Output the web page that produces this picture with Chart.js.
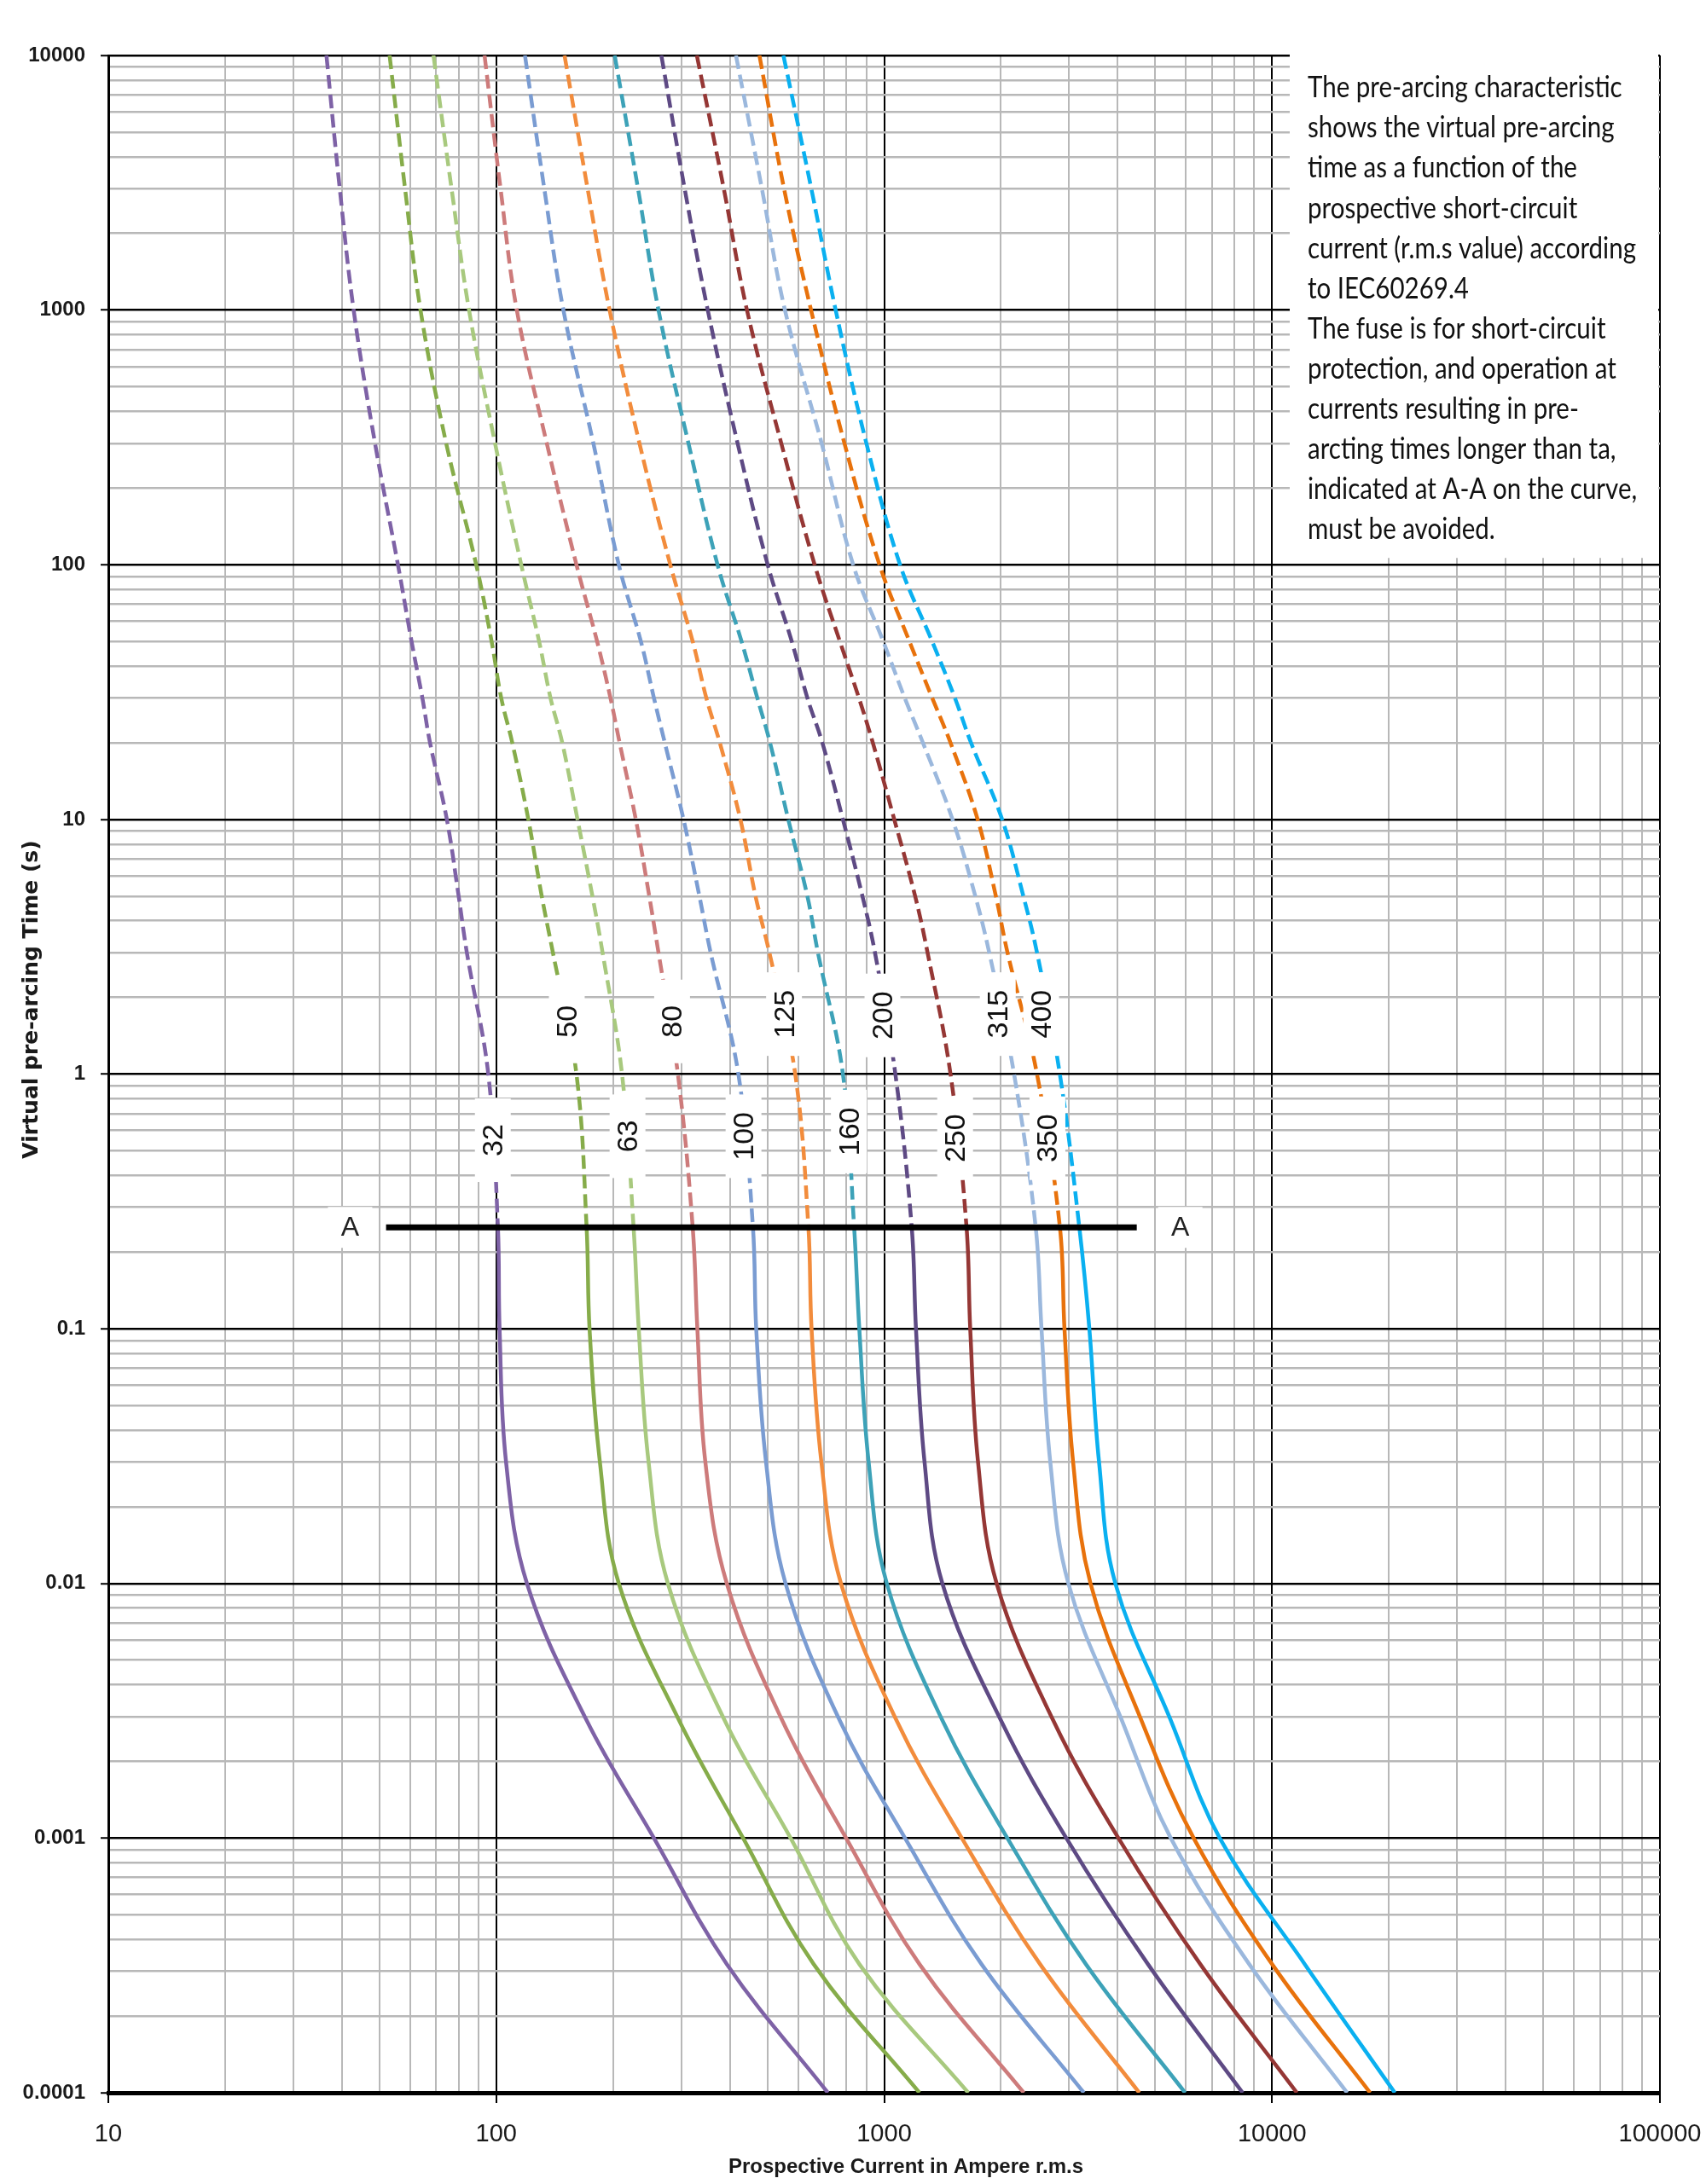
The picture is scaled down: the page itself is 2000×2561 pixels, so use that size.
<!DOCTYPE html>
<html><head><meta charset="utf-8">
<script src="https://cdn.jsdelivr.net/npm/chart.js@4.4.1/dist/chart.umd.min.js"></script>
<style>html,body{margin:0;padding:0;background:#fff;}#wrap{width:2000px;height:2561px;}</style>
</head><body><div id="wrap"><canvas id="c" width="2000" height="2561"></canvas></div>
<script>
// ---------- data ----------
const fuseRatings = ['32','50','63','80','100','125','160','200','250','315','350','400'];
const fuseColors  = ['#7E62A6','#86AC4A','#A8C97E','#CD7B7B','#7A9CD2','#F28C3C','#3DA2B8','#5E4A84','#953735','#9BB8DD','#E8720C','#0AB0F0'];
// virtual pre-arcing time (s) at which each current was read
const timeValues = [10000, 3000, 1000, 300, 100, 50, 30, 20, 10, 5, 3, 1, 0.25, 0.1, 0.03, 0.01, 0.0029, 0.001, 0.00032, 0.0001];
// prospective current (A) of each fuse at those times
const current32  = [36.5, 39.5, 42.9, 48.7, 55.8, 60.5, 64.5, 67.5, 74.6, 80, 84, 95.4, 101, 102, 106, 120, 171, 255, 393, 716];
const current50  = [53.1, 58.2, 63.8, 74.3, 88.8, 97.3, 103, 110, 121, 131, 140, 161, 171, 174, 185, 207, 296, 433, 658, 1233];
const current63  = [68.9, 76.7, 85.1, 99.3, 116, 129, 138, 148, 162, 177, 188, 211, 226, 233, 247, 277, 388, 574, 863, 1648];
const current80  = [93.3, 102.6, 113, 135, 161, 182, 197, 208, 229, 248, 262, 294, 321, 330, 346, 393, 546, 798, 1233, 2291];
const current100 = [118.6, 133, 149, 178, 207, 236, 255, 272, 304, 334, 357, 421, 459, 468, 496, 557, 768, 1132, 1782, 3273];
const current125 = [150, 172, 196, 234, 281, 321, 348, 377, 426, 466, 506, 590, 638, 650, 689, 774, 1076, 1586, 2523, 4548];
const current160 = [202, 232, 262, 313, 372, 429, 471, 508, 566, 634, 675, 783, 837, 863, 912, 1016, 1413, 2078, 3311, 5970];
const current200 = [266.5, 306, 351, 419, 501, 578, 634, 693, 783, 879, 947, 1069, 1178, 1208, 1271, 1413, 2000, 2949, 4786, 8400];
const current250 = [329, 386, 443, 543, 662, 769, 861, 935, 1062, 1202, 1294, 1483, 1631, 1667, 1746, 1950, 2728, 4018, 6530, 11590];
const current315 = [415, 484, 555, 690, 832, 995, 1130, 1259, 1501, 1718, 1866, 2163, 2459, 2545, 2681, 2985, 4101, 5483, 8730, 15620];
const current350 = [477, 552, 648, 790, 973, 1162, 1330, 1483, 1742, 1941, 2080, 2478, 2839, 2917, 3070, 3404, 4605, 6280, 10000, 17900];
const current400 = [550, 649, 750, 900, 1099, 1330, 1522, 1675, 2015, 2285, 2478, 2838, 3186, 3381, 3581, 3945, 5483, 7330, 12140, 20730];

// rating labels on the curves
const labelCurrents = [98, 152, 218, 284, 434, 552, 811, 990, 1524, 1963, 2636, 2540];
const labelTimes    = [0.55, 1.61, 0.57, 1.61, 0.57, 1.72, 0.595, 1.70, 0.56, 1.72, 0.56, 1.72];

// A-A line
const aaTime = 0.25;
const aaCurrents = [52, 4480];
const aLabelCurrents = [42, 5800];
const aLabelText = 'A';

// axes
const xDecades = [10, 100, 1000, 10000, 100000];
const xTickLabels = ['10', '100', '1000', '10000', '100000'];
const yDecades = [0.0001, 0.001, 0.01, 0.1, 1, 10, 100, 1000, 10000];
const yTickLabels = ['0.0001', '0.001', '0.01', '0.1', '1', '10', '100', '1000', '10000'];
const minorMultipliers = [1, 2, 3, 4, 5, 6, 7, 8, 9];
const xTitle = 'Prospective Current in Ampere r.m.s';
const yTitle = 'Virtual pre-arcing Time (s)';

const noteLines = [
  'The pre-arcing characteristic',
  'shows the virtual pre-arcing',
  'time as a function of the',
  'prospective short-circuit',
  'current (r.m.s value) according',
  'to IEC60269.4',
  'The fuse is for short-circuit',
  'protection, and operation at',
  'currents resulting in pre-',
  'arcting times longer than ta,',
  'indicated at A-A on the curve,',
  'must be avoided.'
];

// ---------- helpers ----------
const currents = [current32, current50, current63, current80, current100, current125, current160, current200, current250, current315, current350, current400];
function gridValues(decades) {
  const out = [];
  decades.forEach((d, i) => {
    if (i === decades.length - 1) { out.push(d); return; }
    minorMultipliers.forEach(m => out.push(+(d * m).toPrecision(6)));
  });
  return out;
}
const xGrid = gridValues(xDecades);
const yGrid = gridValues(yDecades);
function isDecade(v) { const l = Math.log10(v); return Math.abs(l - Math.round(l)) < 1e-6; }
function decadeLabel(v, decades, labels) {
  for (let i = 0; i < decades.length; i++) if (Math.abs(Math.log10(v) - Math.log10(decades[i])) < 1e-6) return labels[i];
  return '';
}

// ---------- datasets ----------
const datasets = [{
  label: 'A-A',
  data: aaCurrents.map(x => ({x: x, y: aaTime})),
  borderColor: '#000', borderWidth: 7, pointRadius: 0, tension: 0, order: 0, borderCapStyle: 'butt'
}].concat(fuseRatings.map((r, k) => ({
  label: r,
  data: timeValues.map((t, i) => ({x: currents[k][i], y: t})),
  borderColor: fuseColors[k], borderWidth: 4.5, pointRadius: 0, tension: 0.38, order: 1,
  borderCapStyle: 'butt',
  segment: { borderDash: ctx => (ctx.p1.parsed.y >= aaTime - 1e-9 ? [16, 7] : undefined) }
})));

// ---------- overlay plugin ----------
const overlay = {
  id: 'overlay',
  afterDatasetsDraw(chart) {
    const ctx = chart.ctx, xs = chart.scales.x, ys = chart.scales.y, area = chart.chartArea;
    ctx.save();
    // rating labels
    ctx.font = '34px "Liberation Sans", Arial, sans-serif';
    ctx.textAlign = 'center'; ctx.textBaseline = 'middle';
    fuseRatings.forEach((r, i) => {
      const cx = xs.getPixelForValue(labelCurrents[i]);
      const cy = ys.getPixelForValue(labelTimes[i]);
      ctx.fillStyle = '#fff';
      ctx.fillRect(cx - 21, cy - 49, 42, 98);
      ctx.save();
      ctx.translate(cx + 1, cy);
      ctx.rotate(-Math.PI / 2);
      ctx.fillStyle = '#111';
      ctx.fillText(r, 0, 1);
      ctx.restore();
    });
    // A labels
    ctx.font = '32px "Liberation Sans", Arial, sans-serif';
    aLabelCurrents.forEach(c => {
      const cx = xs.getPixelForValue(c), cy = ys.getPixelForValue(aaTime);
      ctx.fillStyle = '#fff';
      ctx.fillRect(cx - 26, cy - 24, 52, 48);
      ctx.fillStyle = '#222';
      ctx.fillText(aLabelText, cx, cy + 1);
    });
    // note box
    const boxL = 1512, boxT = 52, boxR = area.right - 2, boxB = ys.getPixelForValue(100) - 8;
    ctx.fillStyle = '#fff';
    ctx.fillRect(boxL, boxT, boxR - boxL, boxB - boxT);
    ctx.font = '35px Lato, "Open Sans", sans-serif';
    ctx.textAlign = 'left'; ctx.textBaseline = 'middle';
    const sx = 385 / ctx.measureText(noteLines[4]).width;
    ctx.fillStyle = '#111';
    noteLines.forEach((line, i) => {
      ctx.save();
      ctx.translate(1533, 103 + i * 47.1);
      ctx.scale(sx, 1);
      ctx.fillText(line, 0, 0);
      ctx.restore();
    });
    // axis titles
    ctx.fillStyle = '#1a1a1a';
    ctx.textAlign = 'center'; ctx.textBaseline = 'middle';
    ctx.font = 'bold 24px "Liberation Sans", Arial, sans-serif';
    ctx.fillText(xTitle, 1062, 2541);
    ctx.save();
    ctx.translate(37, 1172);
    ctx.rotate(-Math.PI / 2);
    ctx.font = 'bold 25px "DejaVu Sans", Verdana, sans-serif';
    ctx.fillText(yTitle, 0, 0);
    ctx.restore();
    ctx.restore();
  }
};

new Chart(document.getElementById('c'), {
  type: 'line',
  data: { datasets: datasets },
  plugins: [overlay],
  options: {
    responsive: false, animation: false, devicePixelRatio: 1,
    layout: { padding: { left: 0, top: 65, right: 54, bottom: 0 } },
    plugins: { legend: { display: false }, tooltip: { enabled: false } },
    scales: {
      x: {
        type: 'logarithmic', min: 10, max: 100000,
        afterBuildTicks: s => { s.ticks = xGrid.map(v => ({value: v})); },
        afterFit: s => { s.height = 107; s.paddingLeft = 0; s.paddingRight = 0; },
        ticks: { autoSkip: false, maxRotation: 0, minRotation: 0, padding: 20, color: '#1a1a1a',
          font: { family: '"Liberation Sans", Arial, sans-serif', size: 29 },
          callback: v => decadeLabel(v, xDecades, xTickLabels) },
        grid: { color: c => (isDecade(c.tick.value) ? '#000' : '#b8b8b8'), lineWidth: 2,
          tickLength: 12, tickWidth: 2,
          tickColor: c => (isDecade(c.tick.value) ? '#000' : 'rgba(0,0,0,0)') },
        border: { display: true, color: '#000', width: 5 },
        title: { display: false }
      },
      y: {
        type: 'logarithmic', min: 0.0001, max: 10000,
        afterBuildTicks: s => { s.ticks = yGrid.map(v => ({value: v})); },
        afterFit: s => { s.width = 127; s.paddingTop = 0; s.paddingBottom = 0; },
        ticks: { autoSkip: false, padding: 18, color: '#1a1a1a',
          font: { family: '"Liberation Sans", Arial, sans-serif', size: 24, weight: 'bold' },
          callback: v => decadeLabel(v, yDecades, yTickLabels) },
        grid: { color: c => (isDecade(c.tick.value) ? '#000' : '#b8b8b8'), lineWidth: 2.5,
          tickLength: 9, tickWidth: 2,
          tickColor: c => (isDecade(c.tick.value) ? '#000' : 'rgba(0,0,0,0)') },
        border: { display: true, color: '#000', width: 3 }
      }
    }
  }
});
</script></body></html>
